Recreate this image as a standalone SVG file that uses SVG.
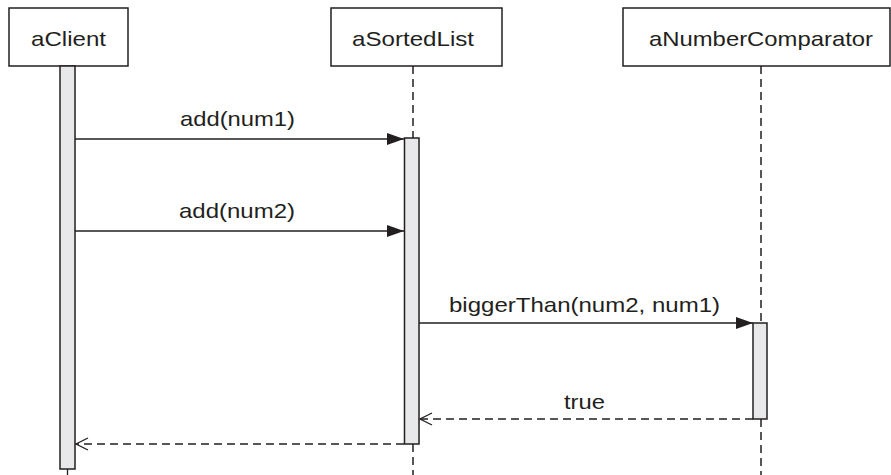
<svg xmlns="http://www.w3.org/2000/svg" width="891" height="475" viewBox="0 0 891 475">
<style>
  .box { fill: #ffffff; stroke: #231f20; stroke-width: 1.5; }
  .act { fill: #e8e8ea; stroke: #231f20; stroke-width: 1.5; }
  .life { stroke: #231f20; stroke-width: 1.5; stroke-dasharray: 8 5; fill: none; }
  .msg { stroke: #231f20; stroke-width: 1.3; fill: none; }
  .ret { stroke: #231f20; stroke-width: 1.3; fill: none; stroke-dasharray: 8 5; }
  text { font-family: "Liberation Sans", Arial, sans-serif; font-size: 21px; fill: #231f20; text-anchor: middle; }
</style>
<defs>
  <marker id="filled" markerWidth="18" markerHeight="14" refX="17" refY="7" orient="auto" markerUnits="userSpaceOnUse">
    <path d="M0,1 L17,7 L0,13 Z" fill="#231f20"/>
  </marker>
  <marker id="open" markerWidth="15" markerHeight="14" refX="13" refY="7" orient="auto" markerUnits="userSpaceOnUse">
    <path d="M1,1 L13,7 L1,13" fill="none" stroke="#231f20" stroke-width="1.3"/>
  </marker>
</defs>
<rect width="891" height="475" fill="#ffffff"/>

<g id="aClient">
  <rect class="box" x="9" y="8" width="119" height="58"/>
  <text x="68.5" y="46" textLength="75" lengthAdjust="spacingAndGlyphs">aClient</text>
  <line class="msg" x1="67.5" y1="469" x2="67.5" y2="475"/>
  <rect class="act" x="60" y="66" width="15" height="403"/>
</g>

<g id="aSortedList">
  <rect class="box" x="331" y="8" width="171" height="58"/>
  <text x="413" y="46" textLength="122" lengthAdjust="spacingAndGlyphs">aSortedList</text>
  <line class="life" x1="413" y1="66" x2="413" y2="138"/>
  <line class="life" x1="413" y1="444" x2="413" y2="475"/>
  <rect class="act" x="404.5" y="138" width="14.5" height="306"/>
</g>

<g id="aNumberComparator">
  <rect class="box" x="623" y="8" width="267" height="58"/>
  <text x="761" y="46" textLength="224" lengthAdjust="spacingAndGlyphs">aNumberComparator</text>
  <line class="life" x1="761" y1="66" x2="761" y2="323"/>
  <line class="life" x1="761" y1="419" x2="761" y2="475"/>
  <rect class="act" x="753" y="323" width="14" height="96"/>
</g>

<g id="connectors">
  <line class="msg" x1="75" y1="139" x2="404" y2="139" marker-end="url(#filled)"/>
  <text x="237.5" y="126" textLength="115" lengthAdjust="spacingAndGlyphs">add(num1)</text>

  <line class="msg" x1="75" y1="231" x2="404" y2="231" marker-end="url(#filled)"/>
  <text x="237" y="218" textLength="116" lengthAdjust="spacingAndGlyphs">add(num2)</text>

  <line class="msg" x1="419" y1="323" x2="753" y2="323" marker-end="url(#filled)"/>
  <text x="584.5" y="312" textLength="271" lengthAdjust="spacingAndGlyphs">biggerThan(num2, num1)</text>

  <line class="ret" x1="753" y1="419" x2="420" y2="419" marker-end="url(#open)"/>
  <text x="584.5" y="409" textLength="41" lengthAdjust="spacingAndGlyphs">true</text>

  <line class="ret" x1="404" y1="444" x2="76" y2="444" marker-end="url(#open)"/>
</g>
</svg>
